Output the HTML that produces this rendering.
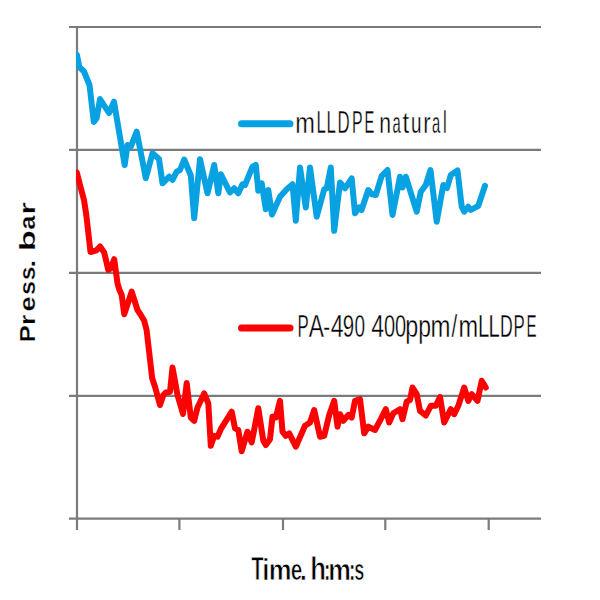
<!DOCTYPE html>
<html><head><meta charset="utf-8"><style>
html,body{margin:0;padding:0;background:#fff;width:600px;height:600px;overflow:hidden}
svg{display:block}
text{font-family:"Liberation Sans",sans-serif;fill:#000}
</style></head><body>
<svg width="600" height="600" viewBox="0 0 600 600">
<defs><clipPath id="c"><rect x="76" y="20" width="470" height="500"/></clipPath></defs>
<rect width="600" height="600" fill="#fff"/>
<g stroke="#7b7b7b" stroke-width="2.2" fill="none">
<line x1="69" y1="27" x2="541" y2="27"/>
<line x1="69" y1="149.9" x2="541" y2="149.9"/>
<line x1="69" y1="272.8" x2="541" y2="272.8"/>
<line x1="69" y1="395.8" x2="541" y2="395.8"/>
<line x1="69" y1="518.6" x2="541" y2="518.6"/>
<line x1="77" y1="26" x2="77" y2="530"/>
<line x1="179.4" y1="518" x2="179.4" y2="530"/>
<line x1="283" y1="518" x2="283" y2="530"/>
<line x1="385.3" y1="518" x2="385.3" y2="530"/>
<line x1="488.7" y1="518" x2="488.7" y2="530"/>
</g>
<g clip-path="url(#c)">
<polyline points="77,55 79.3,67 84,71.5 89.5,85 93.8,122 96.7,118 100,99 109,113 114,101.7 124.7,165 127.5,145 130.8,146.7 136.7,131.7 145.8,178.3 152.5,153.3 159,159 162.5,183.3 169.2,176.7 172.5,180 176.7,171.7 180,170 184.2,159.5 190.8,175.5 194.2,218.3 200,159.2 207.5,193.3 214.2,165 218.3,193.3 220.8,174.2 230,192.5 234.2,188.3 238.3,193.3 242.5,184.2 245,185 252.5,166.7 255.8,165 258.3,190.8 261.7,183.3 265.8,209.2 268.3,190 272,214.5 280,196.7 286.7,189.2 292.5,184.2 295.8,220.8 300,167.5 305.8,207.5 310,167.5 316.7,216.7 324.2,189.2 326.7,188.3 330.8,167.5 334.2,230.8 340,182.5 345,188.3 351.7,178.3 355,213.3 359.2,207.5 361.5,210 368.3,190 371.7,194.2 375.8,195 381.7,175.8 387.5,170 392.5,215 400,176.7 402.5,187.5 405.8,176.7 416.7,211.7 420.8,191.7 425.8,185 430.5,170 436.7,221.7 443.3,185 447,188 450.8,175 457.5,170.5 461.7,206.7 464.2,211.7 468.3,206.7 470.8,210 478.3,205.8 485,185.8" fill="none" stroke="#08a2e2" stroke-width="6" stroke-linejoin="round" stroke-linecap="round"/>
<polyline points="76.8,172.5 80,185 84,200 86.3,215 90.5,252 96.5,250.3 100,246.5 104.2,252.5 108.3,270 110.8,268.3 114.2,259.2 117.5,283.3 119.2,289.2 121.7,295 124.2,314.2 131.7,291.7 137.5,310 140.8,315 144.2,320.8 146.6,330 152.2,378.3 155,386.7 160,405 163.3,395 165.8,392.5 170,391.7 172.5,367.5 177.5,395 183,414 186.7,383 190.8,417.5 194.2,420.8 197.5,407.5 204.2,393.5 208.3,403.3 210.8,445.8 214.2,435.8 217.5,436.7 220.8,429.2 231.7,411.7 235,428.3 238.3,430 241.7,451.2 247.5,431.7 251.7,442.5 258.3,408.3 263.3,440.8 265.8,445 270,439.2 272.5,416.7 275.8,417.5 280,400.8 282.5,431.7 285.8,435.8 289.2,433.3 295.8,446.7 305,425.8 310,422.5 314.2,410 320,436.7 324.2,435.8 329.2,415 334.2,400.8 337.5,426.7 340,414.2 343.3,420.8 348.3,415 351.7,417.5 355,400.8 360,399.2 364.2,433.3 368.3,426.7 375,430 380.8,419.2 385.8,409.2 389.2,422.5 393.3,413.3 400,409.2 402.5,419.2 406.7,401.7 410,400 412.5,387.5 416.7,394.2 420,410.8 425.8,415.5 430.8,405.8 435.8,405.8 440,397 444.2,422.5 450.8,409.2 454.2,414.2 458.3,405.8 464.2,387.5 468.3,400.8 471.7,394.2 477.5,400.8 481.7,380.8 485.8,387.5" fill="none" stroke="#fc0303" stroke-width="6" stroke-linejoin="round" stroke-linecap="round"/>
</g>
<line x1="241.5" y1="123.8" x2="290" y2="123.8" stroke="#08a2e2" stroke-width="7" stroke-linecap="round"/>
<line x1="241.5" y1="328" x2="290" y2="328" stroke="#fc0303" stroke-width="7" stroke-linecap="round"/>
<g stroke="#fff" stroke-width="0.35">
<text font-size="30" transform="translate(295.22,132.80) scale(0.7857,1.0000)">m</text>
<text font-size="30" transform="translate(316.40,132.80) scale(0.5618,1.0500)">L</text>
<text font-size="30" transform="translate(326.40,132.80) scale(0.5618,1.0500)">L</text>
<text font-size="30" transform="translate(337.41,132.80) scale(0.5602,1.0500)">D</text>
<text font-size="30" transform="translate(351.98,132.80) scale(0.5296,1.0500)">P</text>
<text font-size="30" transform="translate(364.58,132.80) scale(0.4893,1.0500)">E</text>
<text font-size="30" transform="translate(379.37,132.80) scale(0.7059,1.0000)">n</text>
<text font-size="30" transform="translate(392.59,132.80) scale(0.4902,1.0000)">a</text>
<text font-size="30" transform="translate(402.40,132.80) scale(0.7843,1.0000)">t</text>
<text font-size="30" transform="translate(411.03,132.80) scale(0.6275,1.0000)">u</text>
<text font-size="30" transform="translate(423.32,132.80) scale(0.7333,1.0000)">r</text>
<text font-size="30" transform="translate(432.09,132.80) scale(0.4902,1.0000)">a</text>
<text font-size="30" transform="translate(442.90,132.80) scale(0.5618,1.0500)">l</text>
<text font-size="30.8" transform="translate(297.40,336.80) scale(0.5462,1.0000)">P</text>
<text font-size="30.8" transform="translate(308.64,336.80) scale(0.7379,1.0000)">A</text>
<text font-size="30.8" transform="translate(323.33,336.80) scale(0.6633,1.0000)">-</text>
<text font-size="30.8" transform="translate(330.68,336.80) scale(0.7468,1.0000)">4</text>
<text font-size="30.8" transform="translate(342.83,336.80) scale(0.6633,1.0000)">9</text>
<text font-size="30.8" transform="translate(354.49,336.80) scale(0.6152,1.0000)">0</text>
<text font-size="30.8" transform="translate(371.18,336.80) scale(0.7468,1.0000)">4</text>
<text font-size="30.8" transform="translate(383.95,336.80) scale(0.6494,1.0000)">0</text>
<text font-size="30.8" transform="translate(394.95,336.80) scale(0.6494,1.0000)">0</text>
<text font-size="30.8" transform="translate(405.23,336.80) scale(0.7576,1.0000)">p</text>
<text font-size="30.8" transform="translate(418.26,336.80) scale(0.7431,1.0000)">p</text>
<text font-size="30.8" transform="translate(430.39,336.80) scale(0.7792,1.0000)">m</text>
<text font-size="30.8" transform="translate(451.54,336.80) scale(0.6633,1.0000)">/</text>
<text font-size="30.8" transform="translate(458.42,336.80) scale(0.7653,1.0000)">m</text>
<text font-size="30.8" transform="translate(477.93,336.80) scale(0.6566,1.0000)">L</text>
<text font-size="30.8" transform="translate(488.53,336.80) scale(0.6566,1.0000)">L</text>
<text font-size="30.8" transform="translate(500.04,336.80) scale(0.5730,1.0000)">D</text>
<text font-size="30.8" transform="translate(513.60,336.80) scale(0.5462,1.0000)">P</text>
<text font-size="30.8" transform="translate(526.55,336.80) scale(0.4885,1.0000)">E</text>
</g>
<g stroke="#fff" stroke-width="0.75">
<text font-size="30.2" font-weight="bold" transform="translate(251.30,579.60) scale(0.6735,1.0700)">T</text>
<text font-size="30.2" font-weight="bold" transform="translate(262.20,579.60) scale(0.8554,1.0000)">i</text>
<text font-size="30.2" font-weight="bold" transform="translate(268.83,579.60) scale(0.8496,1.0000)">m</text>
<text font-size="30.2" font-weight="bold" transform="translate(290.67,579.60) scale(0.6898,1.0000)">e</text>
<text font-size="30.2" font-weight="bold" transform="translate(299.63,579.60) scale(0.8554,1.0000)">.</text>
<text font-size="30.2" font-weight="bold" transform="translate(310.29,579.60) scale(0.8554,1.0700)">h</text>
<text font-size="30.2" font-weight="bold" transform="translate(323.79,579.60) scale(0.6843,1.0000)">:</text>
<text font-size="30.2" font-weight="bold" transform="translate(328.34,579.60) scale(0.8452,1.0000)">m</text>
<text font-size="30.2" font-weight="bold" transform="translate(348.74,579.60) scale(0.6843,1.0000)">:</text>
<text font-size="30.2" font-weight="bold" transform="translate(354.27,579.60) scale(0.5988,1.0000)">s</text>
</g>
<g stroke="#fff" stroke-width="0.25">
<text font-size="22.5" font-weight="bold" transform="translate(35.20,342.39) rotate(-90) scale(1.1540,1)">P</text>
<text font-size="22.5" font-weight="bold" transform="translate(35.20,324.94) rotate(-90) scale(1.1900,1)">r</text>
<text font-size="22.5" font-weight="bold" transform="translate(35.20,311.48) rotate(-90) scale(1.2037,1)">e</text>
<text font-size="22.5" font-weight="bold" transform="translate(35.20,294.98) rotate(-90) scale(1.1204,1)">s</text>
<text font-size="22.5" font-weight="bold" transform="translate(35.20,280.26) rotate(-90) scale(1.0926,1)">s</text>
<text font-size="22.5" font-weight="bold" transform="translate(35.20,267.60) rotate(-90) scale(1.1900,1)">.</text>
<text font-size="22.5" font-weight="bold" transform="translate(35.20,251.35) rotate(-90) scale(1.5402,1)">b</text>
<text font-size="22.5" font-weight="bold" transform="translate(35.20,229.86) rotate(-90) scale(1.1321,1)">a</text>
<text font-size="22.5" font-weight="bold" transform="translate(35.20,214.45) rotate(-90) scale(1.4050,1)">r</text>
</g>
</svg>
</body></html>
